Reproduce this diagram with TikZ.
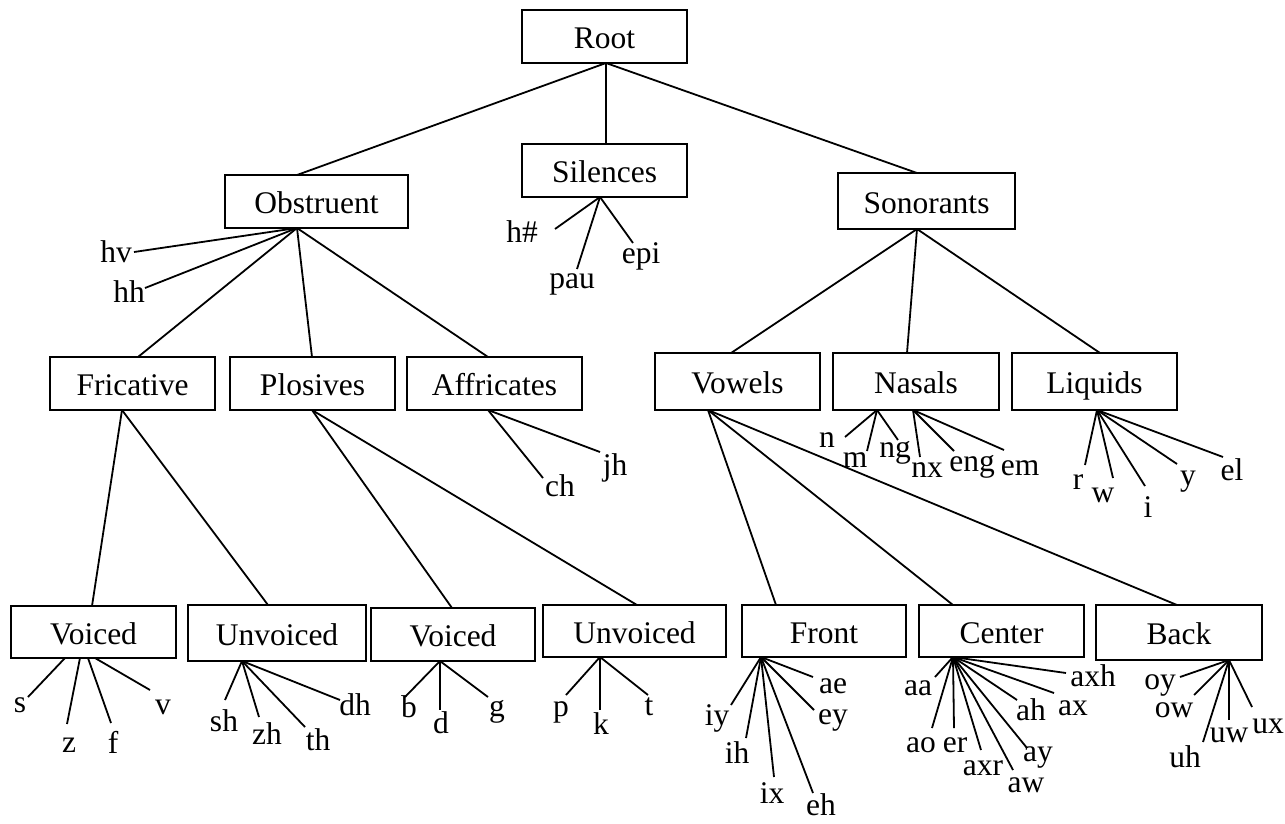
\documentclass[tikz,border=0pt]{standalone}
\usepackage{fontspec}
\setmainfont{Liberation Serif}
\newcommand\bigft{\fontsize{31.5}{36}\selectfont}
\newcommand\leaf[7]{%
  \coordinate (#2e) at (#3,#4);
  \node[lf] (#2) at (#5,#6) {#7};
  \draw[ln] (#1) -- (#2e);}
\begin{document}
\begin{tikzpicture}[x=1pt,y=-1pt,
  bx/.style={draw,line width=2.6pt,inner sep=0pt,outer sep=0pt,font=\bigft,
    text height=24pt,text depth=0pt},
  lf/.style={inner sep=0pt,outer sep=0pt,font=\bigft},
  ln/.style={line width=1.8pt}]
\useasboundingbox (0,0) rectangle (1285,823);
% boxes
\node[bx,minimum width=165pt,minimum height=53pt] (root) at (604.5,36.5) {Root};
\node[bx,minimum width=165pt,minimum height=53pt] (sil) at (604.5,170.5) {Silences};
\node[bx,minimum width=183pt,minimum height=53pt] (obs) at (316.5,201.5) {Obstruent};
\node[bx,minimum width=177pt,minimum height=56pt] (son) at (926.5,201) {Sonorants};
\node[bx,minimum width=165pt,minimum height=53pt] (fric) at (132.5,383.5) {Fricative};
\node[bx,minimum width=165pt,minimum height=53pt] (plos) at (312.5,383.5) {Plosives};
\node[bx,minimum width=175pt,minimum height=53pt] (affr) at (494.5,383.5) {Affricates};
\node[bx,minimum width=165pt,minimum height=57pt] (vow) at (737.5,381.5) {Vowels};
\node[bx,minimum width=166pt,minimum height=57pt] (nas) at (916,381.5) {Nasals};
\node[bx,minimum width=165pt,minimum height=57pt] (liq) at (1094.5,381.5) {Liquids};
\node[bx,minimum width=165pt,minimum height=52pt] (fv) at (93.5,632) {Voiced};
\node[bx,minimum width=178pt,minimum height=56pt] (fu) at (277,633) {Unvoiced};
\node[bx,minimum width=164pt,minimum height=53pt] (pv) at (453,634.5) {Voiced};
\node[bx,minimum width=183pt,minimum height=52pt] (pu) at (634.5,631) {Unvoiced};
\node[bx,minimum width=164pt,minimum height=52pt] (front) at (824,631) {Front};
\node[bx,minimum width=165pt,minimum height=52pt] (cent) at (1001.5,631) {Center};
\node[bx,minimum width=166pt,minimum height=55pt] (back) at (1179,632.5) {Back};
% fan points
\coordinate (rootF) at ([xshift=1.5pt]root.south);
\coordinate (silF) at ([xshift=-4.5pt]sil.south);
\coordinate (obsF) at ([xshift=-19.5pt]obs.south);
\coordinate (sonF) at ([xshift=-9.5pt]son.south);
\coordinate (fricF) at ([xshift=-10.5pt]fric.south);
\coordinate (plosF) at ([xshift=-0.5pt]plos.south);
\coordinate (affrF) at ([xshift=-6.5pt]affr.south);
\coordinate (vowF) at ([xshift=-29.5pt]vow.south);
\coordinate (nasFa) at ([xshift=-39pt]nas.south);
\coordinate (nasFb) at ([xshift=-3pt]nas.south);
\coordinate (liqF) at ([xshift=2.5pt]liq.south);
\coordinate (fvFa) at ([xshift=-28.5pt]fv.south);
\coordinate (fvFb) at ([xshift=-13.5pt]fv.south);
\coordinate (fvFc) at ([xshift=-5.5pt]fv.south);
\coordinate (fvFd) at ([xshift=1.5pt]fv.south);
\coordinate (fuF) at ([xshift=-35pt]fu.south);
\coordinate (pvF) at ([xshift=-13pt]pv.south);
\coordinate (puF) at ([xshift=-34.5pt]pu.south);
\coordinate (frontF) at ([xshift=-63pt]front.south);
\coordinate (centF) at ([xshift=-48.5pt]cent.south);
\coordinate (backF) at ([xshift=50pt]back.south);
% tree edges
\draw[ln] (rootF) -- ([xshift=-19.5pt]obs.north);
\draw[ln] (rootF) -- ([xshift=1.5pt]sil.north);
\draw[ln] (rootF) -- ([xshift=-9.5pt]son.north);
\draw[ln] (obsF) -- ([xshift=5.5pt]fric.north);
\draw[ln] (obsF) -- ([xshift=-0.5pt]plos.north);
\draw[ln] (obsF) -- ([xshift=-6.5pt]affr.north);
\draw[ln] (sonF) -- ([xshift=-6.5pt]vow.north);
\draw[ln] (sonF) -- ([xshift=-9pt]nas.north);
\draw[ln] (sonF) -- ([xshift=5.5pt]liq.north);
\draw[ln] (fricF) -- ([xshift=-1.5pt]fv.north);
\draw[ln] (fricF) -- ([xshift=-9pt]fu.north);
\draw[ln] (plosF) -- ([xshift=-1pt]pv.north);
\draw[ln] (plosF) -- ([xshift=2.5pt]pu.north);
\draw[ln] (vowF) -- ([xshift=-48pt]front.north);
\draw[ln] (vowF) -- ([xshift=-48.5pt]cent.north);
\draw[ln] (vowF) -- ([xshift=-2pt]back.north);
% leaves
\leaf{silF}{hsh}{555}{229}{522}{232}{h\#}
\leaf{silF}{pau}{577}{269}{572}{284}{pau}
\leaf{silF}{epi}{633}{243}{641}{256}{epi}
\leaf{obsF}{hv}{134}{252}{116}{252}{hv}
\leaf{obsF}{hh}{145}{288}{129}{292}{hh}
\leaf{fvFa}{s}{28}{697}{20}{705}{s}
\leaf{fvFb}{z}{67}{724}{69}{745}{z}
\leaf{fvFc}{f}{111}{723}{113}{742}{f}
\leaf{fvFd}{v}{150}{690}{163}{707}{v}
\leaf{fuF}{sh}{225}{700}{224}{721}{sh}
\leaf{fuF}{zh}{259}{717}{267}{734}{zh}
\leaf{fuF}{th}{305}{727}{318}{740}{th}
\leaf{fuF}{dh}{340}{700}{355}{705}{dh}
\leaf{pvF}{b}{405}{697}{409}{707}{b}
\leaf{pvF}{d}{440}{710}{441}{723}{d}
\leaf{pvF}{g}{488}{697}{497}{712}{g}
\leaf{puF}{p}{566}{695}{561}{712}{p}
\leaf{puF}{k}{600}{710}{601}{724}{k}
\leaf{puF}{t}{648}{695}{649}{707}{t}
\leaf{affrF}{ch}{543}{478}{560}{486}{ch}
\leaf{affrF}{jh}{600}{452}{615}{468}{jh}
\leaf{nasFa}{n}{845}{437}{827}{440}{n}
\leaf{nasFa}{m}{867}{451}{855}{460}{m}
\leaf{nasFa}{ng}{898}{440}{895}{453}{ng}
\leaf{nasFb}{nx}{920}{457}{927}{470}{nx}
\leaf{nasFb}{eng}{954}{451}{972}{467}{eng}
\leaf{nasFb}{em}{1004}{450}{1020}{468}{em}
\leaf{liqF}{r}{1085}{465}{1078}{482}{r}
\leaf{liqF}{w}{1113}{478}{1103}{495}{w}
\leaf{liqF}{i}{1145}{486}{1148}{507}{i}
\leaf{liqF}{y}{1177}{464}{1188}{482}{y}
\leaf{liqF}{el}{1223}{457}{1232}{470}{el}
\leaf{frontF}{iy}{731}{705}{717}{718}{iy}
\leaf{frontF}{ih}{746}{738}{737}{753}{ih}
\leaf{frontF}{ix}{774}{777}{772}{793}{ix}
\leaf{frontF}{eh}{813}{793}{821}{805}{eh}
\leaf{frontF}{ae}{813}{677}{833}{686}{ae}
\leaf{frontF}{ey}{814}{710}{833}{720}{ey}
\leaf{centF}{aa}{935}{677}{918}{688}{aa}
\leaf{centF}{ao}{932}{728}{921}{745}{ao}
\leaf{centF}{er}{954}{728}{955}{745}{er}
\leaf{centF}{axr}{981}{750}{983}{768}{axr}
\leaf{centF}{aw}{1013}{770}{1026}{785}{aw}
\leaf{centF}{ay}{1027}{748}{1038}{757}{ay}
\leaf{centF}{ah}{1017}{700}{1031}{710}{ah}
\leaf{centF}{ax}{1054}{693}{1073}{708}{ax}
\leaf{centF}{axh}{1066}{673}{1093}{676}{axh}
\leaf{backF}{oy}{1180}{677}{1160}{685}{oy}
\leaf{backF}{ow}{1194}{695}{1174}{710}{ow}
\leaf{backF}{uh}{1203}{742}{1185}{757}{uh}
\leaf{backF}{uw}{1229}{720}{1229}{735}{uw}
\leaf{backF}{ux}{1252}{707}{1268}{726}{ux}
\end{tikzpicture}
\end{document}
